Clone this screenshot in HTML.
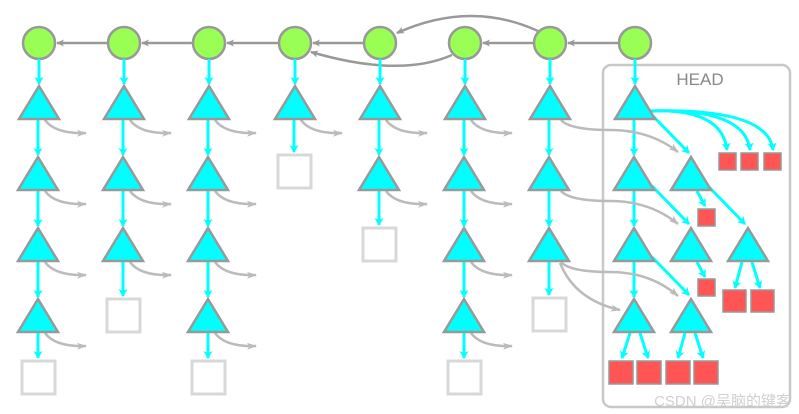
<!DOCTYPE html>
<html><head><meta charset="utf-8"><style>html,body{margin:0;padding:0;background:#fff}svg{display:block}</style></head>
<body>
<svg width="799" height="414" viewBox="0 0 799 414" xmlns="http://www.w3.org/2000/svg">
<defs>
<marker id="ag" markerWidth="8" markerHeight="8" refX="7" refY="4" orient="auto" markerUnits="userSpaceOnUse"><path d="M0,0.5 L8,4 L0,7.5 L2,4z" fill="#999"/></marker>
<marker id="al" markerWidth="10" markerHeight="8" refX="9" refY="4" orient="auto" markerUnits="userSpaceOnUse"><path d="M0,0.5 L10,4 L0,7.5 L2.5,4z" fill="#bbb"/></marker>
<marker id="ac" markerWidth="8" markerHeight="9" refX="7" refY="4.5" orient="auto" markerUnits="userSpaceOnUse"><path d="M0,0 L8,4.5 L0,9 L2,4.5z" fill="#00ffff"/></marker>
</defs>
<rect x="603" y="65" width="187" height="342" rx="8" fill="none" stroke="#c8c8c8" stroke-width="2.5"/>
<text x="700" y="85" font-family="Liberation Sans, sans-serif" font-size="17" fill="#888" text-anchor="middle">HEAD</text>
<g stroke="#999" stroke-width="2.5" fill="none" marker-end="url(#ag)">
<line x1="619" y1="43" x2="568" y2="43"/>
<line x1="534" y1="43" x2="483" y2="43"/>
<line x1="364" y1="43" x2="313" y2="43"/>
<line x1="279" y1="43" x2="227" y2="43"/>
<line x1="193" y1="43" x2="142" y2="43"/>
<line x1="108" y1="43" x2="57" y2="43"/>
<path d="M538 31 Q470 0 397 33"/>
<path d="M452 55 Q400 78 311 52"/>
</g>
<g fill="#99ff55" stroke="#999" stroke-width="2.5">
<circle cx="39" cy="43" r="16"/><circle cx="124" cy="43" r="16"/><circle cx="209" cy="43" r="16"/><circle cx="295" cy="43" r="16"/><circle cx="380" cy="43" r="16"/><circle cx="465" cy="43" r="16"/><circle cx="550" cy="43" r="16"/><circle cx="635" cy="43" r="16"/>
</g>
<g stroke="#00ffff" stroke-width="3" fill="none" marker-end="url(#ac)">
<line x1="39" y1="59" x2="39" y2="84"/><line x1="38" y1="120" x2="38" y2="155"/><line x1="38" y1="191" x2="38" y2="226"/><line x1="38" y1="262" x2="38" y2="297"/><line x1="38" y1="333" x2="38" y2="358"/>
<line x1="124" y1="59" x2="124" y2="84"/><line x1="123" y1="120" x2="123" y2="155"/><line x1="123" y1="191" x2="123" y2="226"/><line x1="123" y1="262" x2="123" y2="296"/>
<line x1="209" y1="59" x2="209" y2="84"/><line x1="208" y1="120" x2="208" y2="155"/><line x1="208" y1="191" x2="208" y2="226"/><line x1="208" y1="262" x2="208" y2="297"/><line x1="208" y1="333" x2="208" y2="358"/>
<line x1="295" y1="59" x2="295" y2="84"/><line x1="294" y1="120" x2="294" y2="152"/>
<line x1="380" y1="59" x2="380" y2="84"/><line x1="379" y1="120" x2="379" y2="155"/><line x1="379" y1="191" x2="379" y2="225"/>
<line x1="465" y1="59" x2="465" y2="84"/><line x1="464" y1="120" x2="464" y2="155"/><line x1="464" y1="191" x2="464" y2="226"/><line x1="464" y1="262" x2="464" y2="297"/><line x1="464" y1="333" x2="464" y2="358"/>
<line x1="550" y1="59" x2="550" y2="84"/><line x1="549" y1="120" x2="549" y2="155"/><line x1="549" y1="191" x2="549" y2="226"/><line x1="549" y1="262" x2="549" y2="295"/>
<line x1="635" y1="59" x2="635" y2="84"/><line x1="634" y1="120" x2="634" y2="155"/><line x1="634" y1="191" x2="634" y2="226"/><line x1="634" y1="262" x2="634" y2="297"/>
<line x1="652" y1="115" x2="689" y2="153"/><line x1="652" y1="186" x2="689" y2="224"/><line x1="652" y1="257" x2="689" y2="295"/>
<line x1="708" y1="186" x2="745" y2="224"/>
<line x1="697" y1="191" x2="705" y2="206"/><line x1="697" y1="262" x2="705" y2="277"/>
<path d="M650 111 Q722 108 727 150"/><path d="M650 111 Q745 108 750 150"/><path d="M650 111 Q768 108 773 150"/>
<line x1="742" y1="262" x2="735" y2="288"/><line x1="752" y1="262" x2="760" y2="288"/>
<line x1="630" y1="333" x2="622" y2="358"/><line x1="640" y1="333" x2="648" y2="358"/>
<line x1="685" y1="333" x2="678" y2="358"/><line x1="695" y1="333" x2="703" y2="358"/>
</g>
<g stroke="#bbb" stroke-width="2.5" fill="none" marker-end="url(#al)">
<path d="M45 120 Q55 134 86 133"/><path d="M45 191 Q55 205 86 204"/><path d="M45 262 Q55 276 86 275"/><path d="M45 333 Q55 347 86 346"/>
<path d="M130 120 Q140 134 171 133"/><path d="M130 191 Q140 205 171 204"/><path d="M130 262 Q140 276 171 275"/>
<path d="M215 120 Q225 134 256 133"/><path d="M215 191 Q225 205 256 204"/><path d="M215 262 Q225 276 256 275"/><path d="M215 333 Q225 347 256 346"/>
<path d="M301 120 Q311 134 342 133"/>
<path d="M386 120 Q396 134 427 133"/><path d="M386 191 Q396 205 427 204"/>
<path d="M471 120 Q481 134 512 133"/><path d="M471 191 Q481 205 512 204"/><path d="M471 262 Q481 276 512 275"/><path d="M471 333 Q481 347 512 346"/>
<path d="M561 120 Q570 130 610 130 Q650 130 678 152"/>
<path d="M561 191 Q570 201 610 201 Q650 201 678 224"/>
<path d="M561 262 Q570 272 610 272 Q650 272 678 296"/>
<path d="M560 263 Q575 300 620 310"/>
</g>
<g fill="#00ffff" stroke="#999" stroke-width="2.5" stroke-linejoin="miter">
<path d="M39 86 L19 119 L59 119Z"/><path d="M38 157 L18 190 L58 190Z"/><path d="M38 228 L18 261 L58 261Z"/><path d="M38 299 L18 332 L58 332Z"/>
<path d="M124 86 L104 119 L144 119Z"/><path d="M123 157 L103 190 L143 190Z"/><path d="M123 228 L103 261 L143 261Z"/>
<path d="M209 86 L189 119 L229 119Z"/><path d="M208 157 L188 190 L228 190Z"/><path d="M208 228 L188 261 L228 261Z"/><path d="M208 299 L188 332 L228 332Z"/>
<path d="M295 86 L275 119 L315 119Z"/>
<path d="M380 86 L360 119 L400 119Z"/><path d="M379 157 L359 190 L399 190Z"/>
<path d="M465 86 L445 119 L485 119Z"/><path d="M464 157 L444 190 L484 190Z"/><path d="M464 228 L444 261 L484 261Z"/><path d="M464 299 L444 332 L484 332Z"/>
<path d="M550 86 L530 119 L570 119Z"/><path d="M549 157 L529 190 L569 190Z"/><path d="M549 228 L529 261 L569 261Z"/>
<path d="M635 86 L615 119 L655 119Z"/><path d="M634 157 L614 190 L654 190Z"/><path d="M634 228 L614 261 L654 261Z"/><path d="M634 299 L614 332 L654 332Z"/>
<path d="M691 157 L671 190 L711 190Z"/><path d="M691 228 L671 261 L711 261Z"/><path d="M691 299 L671 332 L711 332Z"/>
<path d="M748 228 L728 261 L768 261Z"/>
</g>
<g fill="none" stroke="#d8d8d8" stroke-width="3">
<rect x="22" y="361" width="33" height="33"/><rect x="107" y="299" width="33" height="33"/><rect x="192" y="361" width="33" height="33"/>
<rect x="278" y="155" width="33" height="33"/><rect x="363" y="228" width="33" height="33"/><rect x="448" y="361" width="33" height="33"/><rect x="533" y="298" width="33" height="33"/>
</g>
<g fill="#ff5555" stroke="#999" stroke-width="1.5">
<rect x="719" y="153" width="17" height="17"/><rect x="741" y="153" width="17" height="17"/><rect x="764" y="153" width="17" height="17"/>
<rect x="698" y="209" width="17" height="17"/><rect x="698" y="279" width="17" height="17"/>
<rect x="723" y="290" width="23" height="22"/><rect x="751" y="290" width="23" height="22"/>
<rect x="609" y="361" width="24" height="23"/><rect x="637" y="361" width="24" height="23"/><rect x="666" y="361" width="24" height="23"/><rect x="694" y="361" width="24" height="23"/>
</g>
<text x="791" y="406" font-family="Liberation Sans, Noto Sans CJK SC, sans-serif" font-size="15" fill="#d0d0d0" text-anchor="end">CSDN @吴脑的键客</text>
</svg>
</body></html>
